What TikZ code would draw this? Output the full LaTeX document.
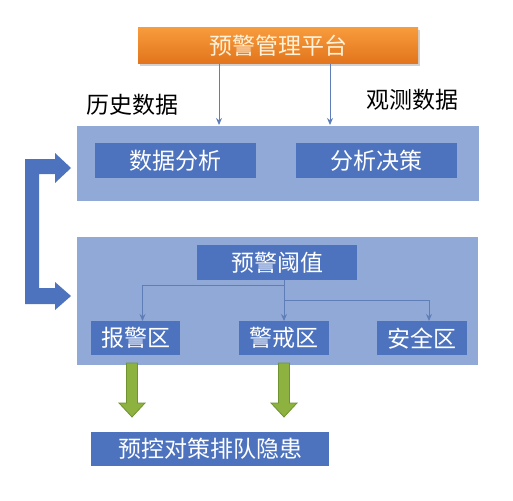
\documentclass[tikz,border=0pt]{standalone}
\usepackage{fontspec}
\newfontfamily\cjk{Noto Sans CJK SC}
\usetikzlibrary{arrows.meta,shapes.arrows,shadows}
\definecolor{lightbg}{HTML}{91A9D6}
\definecolor{darkbox}{HTML}{4E73BE}
\definecolor{thinblue}{HTML}{5F7DB8}
\definecolor{orangetop}{HTML}{F79B3C}
\definecolor{orangebot}{HTML}{E2741C}
\definecolor{creamtxt}{HTML}{FFF2D8}
\definecolor{greenfill}{HTML}{8DB23F}
\definecolor{greenedge}{HTML}{6E9330}
\tikzset{
  txt/.style={font=\cjk\fontsize{23}{26}\selectfont},
  dbox/.style={fill=darkbox, draw=none, text=white, inner sep=0pt, anchor=north west},
  thin/.style={draw=thinblue, line width=1pt, -{Stealth[length=7pt,width=6pt]}},
  garrow/.style={fill=greenfill, draw=greenedge, line width=0.8pt},
}
\begin{document}
\begin{tikzpicture}[x=1pt,y=-1pt]
\useasboundingbox (0,0) rectangle (513,500);
\fill[white] (0,0) rectangle (513,500);

% panels
\fill[lightbg] (77,126) rectangle (479,201);
\fill[lightbg] (77,237) rectangle (478,365);

% orange top
\fill[black!18] (140,30) rectangle (420,66);
\shade[top color=orangetop, bottom color=orangebot] (138,28) rectangle (418,64);
\node[txt, text=creamtxt] (plat) at (278,46) {预警管理平台};
\coordinate (platb1) at (219,64);
\coordinate (platb2) at (330,64);
\coordinate (topp1) at (219,125);
\coordinate (topp2) at (330,125);
\draw[thin] (platb1) -- (topp1);
\draw[thin] (platb2) -- (topp2);

% labels
\node[txt, text=black] (hist) at (132.5,105) {历史数据};
\node[txt, text=black] (obs) at (412.5,100) {观测数据};

% top inner boxes
\node[dbox, minimum width=161pt, minimum height=35pt] (ana) at (95,143) {};
\node[txt,text=white] at (ana.center) {数据分析};
\node[dbox, minimum width=161pt, minimum height=35pt] (dec) at (296,143) {};
\node[txt,text=white] at (dec.center) {分析决策};

% lower
\node[dbox, minimum width=160pt, minimum height=35pt] (thr) at (197,245) {};
\node[txt,text=white] at (thr.center) {预警阈值};
\node[dbox, minimum width=89pt, minimum height=34pt] (alarm) at (91,321) {};
\node[txt,text=white] at (alarm.center) {报警区};
\node[dbox, minimum width=90pt, minimum height=34pt] (warn) at (239,321) {};
\node[txt,text=white] at (warn.center) {警戒区};
\node[dbox, minimum width=90pt, minimum height=34pt] (safe) at (377,321) {};
\node[txt,text=white] at (safe.center) {安全区};

\coordinate (tb) at (284,280);
\draw[thin] (tb) -- (284,285) -| ([xshift=51.5pt]alarm.north west);
\draw[thin] (tb) -- (warn.north -| tb);
\draw[thin] (284,300) -| ([xshift=52pt]safe.north west);

% bottom box
\node[dbox, minimum width=238pt, minimum height=34pt] (ctrl) at (91,432) {};
\node[txt,text=white] at (ctrl.center) {预控对策排队隐患};

% green arrows
\draw[garrow] (126.5,363) -- (137.5,363) -- (137.5,403) -- (145,403) -- (132,417) -- (119,403) -- (126.5,403) -- cycle;
\draw[garrow] (278.5,363) -- (289.5,363) -- (289.5,403) -- (297,403) -- (284,417) -- (271,403) -- (278.5,403) -- cycle;

% bracket arrow
\fill[darkbox] (55,159) -- (55,153) -- (71,168) -- (55,183) -- (55,174) -- (39,174)
  -- (39,288) -- (55,288) -- (55,282) -- (71,296) -- (55,310) -- (55,304) -- (25,304)
  -- (25,159) -- cycle;
\end{tikzpicture}
\end{document}
